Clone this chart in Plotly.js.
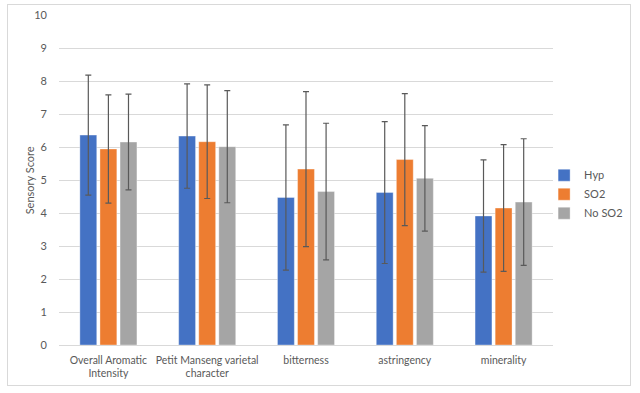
<!DOCTYPE html>
<html>
<head>
<meta charset="utf-8">
<script src="https://cdn.plot.ly/plotly-3.0.1.min.js"></script>
<style>
html,body{margin:0;padding:0;background:#fff;}
#wrap{position:relative;width:640px;height:393px;}
#frame{position:absolute;left:7px;top:4px;width:622px;height:380px;border:1px solid #d9d9d9;pointer-events:none;}
#chart{position:absolute;left:0;top:0;width:640px;height:393px;}
</style>
</head>
<body>
<div id="wrap"><div id="chart"></div><div id="frame"></div></div>
<script>
const categories = ["Overall Aromatic<br>Intensity", "Petit Manseng varietal<br>character", "bitterness", "astringency", "minerality"];
const seriesNames = ["Hyp", "SO2", "No SO2"];
const hypValues = [6.36, 6.33, 4.47, 4.62, 3.91];
const hypErrors = [1.82, 1.58, 2.2, 2.15, 1.7];
const so2Values = [5.94, 6.16, 5.33, 5.62, 4.15];
const so2Errors = [1.64, 1.72, 2.35, 2.0, 1.92];
const noSo2Values = [6.15, 6.01, 4.65, 5.05, 4.33];
const noSo2Errors = [1.45, 1.7, 2.07, 1.6, 1.92];
const yTicks = [0,1,2,3,4,5,6,7,8,9,10];
const yTitle = "Sensory Score";

const colors = ["#4472C4", "#ED7D31", "#A5A5A5"];
const values = [hypValues, so2Values, noSo2Values];
const errors = [hypErrors, so2Errors, noSo2Errors];

const traces = seriesNames.map((name, i) => ({
  type: "bar",
  name: name,
  x: categories,
  y: values[i],
  marker: {color: colors[i], line: {color: "rgba(255,255,255,0.35)", width: 1}},
  error_y: {type: "data", array: errors[i], visible: true, color: "#595959", thickness: 1.2, width: 3}
}));

const font = "Lato, 'Open Sans', sans-serif";
const layout = {
  width: 640, height: 393,
  margin: {l: 59, r: 82, t: 15, b: 48, pad: 0},
  paper_bgcolor: "#fff", plot_bgcolor: "#fff",
  font: {family: font, size: 11, color: "#595959"},
  barmode: "group",
  bargap: 0.39,
  bargroupgap: 0.16,
  showlegend: true,
  legend: {x: 0.982, xanchor: "left", y: 0.457, yanchor: "middle", font: {family: font, size: 11, color: "#595959"}, bgcolor: "rgba(0,0,0,0)", itemwidth: 30, tracegroupgap: 0},
  xaxis: {
    tickfont: {family: font, size: 10.5, color: "#595959"},
    showgrid: false, showline: false, zeroline: false, ticks: "", ticklabelstandoff: 7
  },
  yaxis: {
    range: [0, 10], tickvals: yTicks, ticktext: yTicks.map(String),
    gridcolor: "#d9d9d9", gridwidth: 1, zeroline: true, zerolinecolor: "#d9d9d9", zerolinewidth: 1,
    showline: false, ticks: "", ticklabelstandoff: 11,
    tickfont: {family: font, size: 11, color: "#595959"}
  },
  annotations: [{
    text: yTitle, xref: "paper", yref: "paper", x: -0.06, y: 0.5,
    xanchor: "center", yanchor: "middle", textangle: -90, showarrow: false,
    font: {family: font, size: 11, color: "#595959"}
  }]
};

Plotly.newPlot("chart", traces, layout, {displayModeBar: false, staticPlot: true});
</script>
</body>
</html>
